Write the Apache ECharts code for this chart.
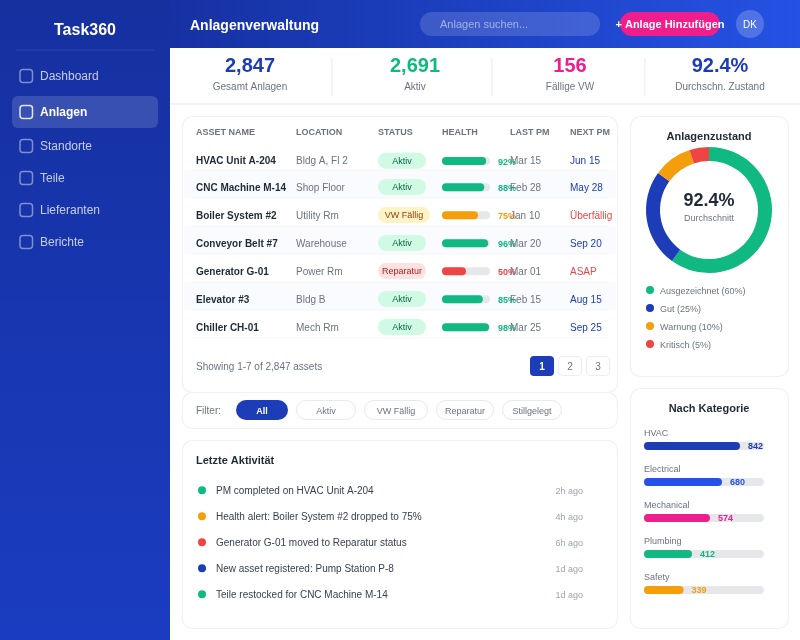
<!DOCTYPE html>
<html><head><meta charset="utf-8">
<style>html,body{margin:0;padding:0;background:#fff}#c{width:800px;height:640px}</style>
<script src="https://cdn.jsdelivr.net/npm/echarts@6/dist/echarts.min.js"></script>
</head><body><div id="c"></div>
<script>
const navItems=['Dashboard','Anlagen','Standorte','Teile','Lieferanten','Berichte'];
const statLabels=['Gesamt Anlagen','Aktiv','Fällige VW','Durchschn. Zustand'];
const statValues=['2,847','2,691','156','92.4%'];
const tableHeaders=['ASSET NAME','LOCATION','STATUS','HEALTH','LAST PM','NEXT PM'];
const assetNames=['HVAC Unit A-204','CNC Machine M-14','Boiler System #2','Conveyor Belt #7','Generator G-01','Elevator #3','Chiller CH-01'];
const assetLocations=['Bldg A, Fl 2','Shop Floor','Utility Rm','Warehouse','Power Rm','Bldg B','Mech Rm'];
const assetStatuses=['Aktiv','Aktiv','VW Fällig','Aktiv','Reparatur','Aktiv','Aktiv'];
const assetHealth=[92,88,75,96,50,85,98];
const assetLastPm=['Mar 15','Feb 28','Jan 10','Mar 20','Mar 01','Feb 15','Mar 25'];
const assetNextPm=['Jun 15','May 28','Überfällig','Sep 20','ASAP','Aug 15','Sep 25'];
const filterLabels=['All','Aktiv','VW Fällig','Reparatur','Stillgelegt'];
const pageLabels=['1','2','3'];
const activityTexts=['PM completed on HVAC Unit A-204','Health alert: Boiler System #2 dropped to 75%','Generator G-01 moved to Reparatur status','New asset registered: Pump Station P-8','Teile restocked for CNC Machine M-14'];
const activityTimes=['2h ago','4h ago','6h ago','1d ago','1d ago'];
const conditionNames=['Ausgezeichnet','Gut','Warnung','Kritisch'];
const conditionValues=[60,25,10,5];
const categoryNames=['HVAC','Electrical','Mechanical','Plumbing','Safety'];
const categoryCounts=[842,680,574,412,339];
const categoryFill=[80,65,55,40,33];

const BLUE='#1c3cb8',GREEN='#10b981',PINK='#f01e8c',AMBER='#f59e0b',RED='#ef4444';
const FONT='"Liberation Sans",Arial,sans-serif';
const statusStyle={'Aktiv':{bg:'#d1fae5',fg:'#065f46',bar:GREEN,w:48},'VW Fällig':{bg:'#fef3c7',fg:'#92400e',bar:AMBER,w:52},'Reparatur':{bg:'#fee2e2',fg:'#b91c1c',bar:RED,w:48}};
const g=[];
const rect=(x,y,w,h,r,fill,stroke,lw,z)=>g.push({type:'rect',silent:true,z:z||0,shape:{x,y,width:w,height:h,r},style:{fill:fill||'transparent',stroke:stroke||null,lineWidth:lw||0}});
const text=(t,x,y,size,fill,weight,align)=>g.push({type:'text',silent:true,z:5,x:x,y:y+0.8,style:{text:t,fill,textAlign:align||'left',textVerticalAlign:'middle',font:(weight||'normal')+' '+size+'px '+FONT}});
const circle=(cx,cy,r,fill)=>g.push({type:'circle',silent:true,z:1,shape:{cx,cy,r},style:{fill}});

// sidebar + header
rect(0,0,170,640,0,{type:'linear',x:0,y:0,x2:0,y2:1,colorStops:[{offset:0,color:'#15309f'},{offset:1,color:'#1a3cc0'}]});
rect(170,0,630,48,0,{type:'linear',x:0,y:0,x2:1,y2:0,colorStops:[{offset:0,color:'#1631a2'},{offset:1,color:'#2552e4'}]});
text('Task360',85,30,16,'#fff','bold','center');
rect(16,49.5,138,1,0,'rgba(255,255,255,0.1)');
const navY=[76,112,146,178,210,242];
rect(12,96,146,32,6,'rgba(255,255,255,0.15)');
navItems.forEach((n,i)=>{const a=i===1;
  rect(20,navY[i]-6.5,12.5,13,3,null,a?'rgba(255,255,255,0.85)':'rgba(255,255,255,0.45)',1.5,1);
  text(n,40,navY[i],12,a?'#fff':'rgba(255,255,255,0.75)',a?'bold':'normal');});
text('Anlagenverwaltung',190,25,14,'#fff','bold');
rect(420,12,180,24,12,'rgba(255,255,255,0.15)');
text('Anlagen suchen...',440,24,11,'rgba(255,255,255,0.5)');
rect(620,12,100,24,12,PINK);
text('+ Anlage Hinzufügen',670,24,11,'#fff','bold','center');
circle(750,24,14,'rgba(255,255,255,0.2)');
text('DK',750,24,10,'#fff','normal','center');

// stats
const statX=[250,415,570,720],statColors=[BLUE,GREEN,PINK,BLUE];
statLabels.forEach((l,i)=>{text(statValues[i],statX[i],65.5,20,statColors[i],'bold','center');text(l,statX[i],86.5,10,'#6b7280','normal','center');});
[331,491,644].forEach(x=>rect(x,58,1.5,38,0,'#f0f1f3'));
rect(170,103,630,2,0,'#f3f4f6');

// cards
const card=(x,y,w,h)=>rect(x,y,w,h,10,'#fff','#f0f1f4',1.2);
card(182.5,116.5,435,276);card(182.5,392.5,435,36);card(182.5,440.5,435,188);card(630.5,116.5,158,260);card(630.5,388.5,158,240);

// table
const colX=[196,296,378,442,510,570];
tableHeaders.forEach((h,i)=>text(h,colX[i],132,9,'#6b7280','bold'));
const rowY=[160.7,187,215,243,271,299,327];
[[170,28],[226,28],[282,28]].forEach(b=>rect(184,b[0],432,b[1],0,'#fafbfe'));
[169.5,197.5,225.5,253.5,281.5,309.5,337.5].forEach(y=>rect(192,y,416,1,0,'#f5f6f8',null,0,1));
assetNames.forEach((n,i)=>{const y=rowY[i],s=statusStyle[assetStatuses[i]];
  text(n,colX[0],y,10,'#1f2937','bold');
  text(assetLocations[i],colX[1],y,10,'#6b7280');
  rect(colX[2],y-8,s.w,16,8,s.bg,null,0,1);
  text(assetStatuses[i],colX[2]+s.w/2,y,9,s.fg,'normal','center');
  text(assetHealth[i]+'%',498,y+1,9,s.bar,'bold');
  text(assetLastPm[i],colX[4],y,10,'#6b7280');
  const late=assetNextPm[i]==='Überfällig'||assetNextPm[i]==='ASAP';
  text(assetNextPm[i],colX[5],y,10,late?RED:BLUE);
});
text('Showing 1-7 of 2,847 assets',196,366,10,'#6b7280');
pageLabels.forEach((p,i)=>{const x=530+i*28,a=i===0;
  rect(a?x:x+.5,a?356:356.5,a?24:23,a?20:19,4,a?BLUE:'#fff',a?null:'#eceef1',a?0:1.2);
  text(p,x+12,366,10,a?'#fff':'#6b7280',a?'bold':'normal','center');});

// filters
text('Filter:',196,410.5,10,'#6b7280');
const fx=[236,296,364,436,502],fw=[52,60,64,58,60];
filterLabels.forEach((f,i)=>{const a=i===0;
  rect(a?fx[i]:fx[i]+.5,a?400:400.5,a?fw[i]:fw[i]-1,a?20:19,10,a?BLUE:'#fff',a?null:'#e7e9ed',a?0:1);
  text(f,fx[i]+fw[i]/2,410.5,9,a?'#fff':'#6b7280',a?'bold':'normal','center');});

// activity
text('Letzte Aktivität',196,460,11,'#1f2937','bold');
const actDots=[GREEN,AMBER,RED,BLUE,GREEN];
activityTexts.forEach((t,i)=>{const y=490.7+i*26;
  circle(202,y-0.5,4,actDots[i]);
  text(t,216,y,10,'#374151');
  text(activityTimes[i],583,y,9,'#9ca3af','normal','right');});

// donut card
text('Anlagenzustand',709,136,11,'#1f2937','bold','center');
text('92.4%',709,200,18,'#1f2937','bold','center');
text('Durchschnitt',709,218,9,'#6b7280','normal','center');
const condColors=[GREEN,BLUE,AMBER,RED];
conditionNames.forEach((n,i)=>{const y=290.7+i*18;
  circle(650,y-0.7,4,condColors[i]);
  text(n+' ('+conditionValues[i]+'%)',660,y,9,'#6b7280');});

// category card
text('Nach Kategorie',709,408,11,'#1f2937','bold','center');
const catColors=[BLUE,'#2552e4',PINK,GREEN,AMBER];
const catY=[446,482,518,554,590];
categoryNames.forEach((n,i)=>text(n,644,catY[i]-13.5,9,'#6b7280'));

// series
const grid=[],xAxis=[],yAxis=[],series=[];
const addBar=(left,top,width,cat,val,color,max,label)=>{const k=grid.length;
  grid.push({left,top,width,height:8});
  xAxis.push({gridIndex:k,type:'value',min:0,max,show:false});
  yAxis.push({gridIndex:k,type:'category',data:[cat],show:false});
  series.push({type:'bar',name:cat,xAxisIndex:k,yAxisIndex:k,data:[val],barWidth:8,silent:true,
    itemStyle:{color,borderRadius:4},showBackground:true,backgroundStyle:{color:'#e5e7eb',borderRadius:4},label});};
assetNames.forEach((n,i)=>addBar(442,rowY[i]-3.7,48,n,assetHealth[i],statusStyle[assetStatuses[i]].bar,100));
categoryNames.forEach((n,i)=>addBar(644,catY[i]-4,120,n,categoryFill[i],catColors[i],100,
  {show:true,position:'right',distance:8,offset:[0,1],formatter:()=>String(categoryCounts[i]),color:catColors[i],fontSize:9,fontWeight:'bold',fontFamily:FONT}));
series.push({type:'pie',center:[709,210],radius:[49,63],startAngle:90,clockwise:true,silent:true,label:{show:false},labelLine:{show:false},
  data:conditionNames.map((n,i)=>({name:n,value:conditionValues[i],itemStyle:{color:condColors[i]}}))});

const chart=echarts.init(document.getElementById('c'),null,{renderer:'canvas'});
chart.setOption({animation:false,backgroundColor:'#fff',textStyle:{fontFamily:FONT},tooltip:{show:false},graphic:{elements:g},grid,xAxis,yAxis,series});
</script></body></html>
